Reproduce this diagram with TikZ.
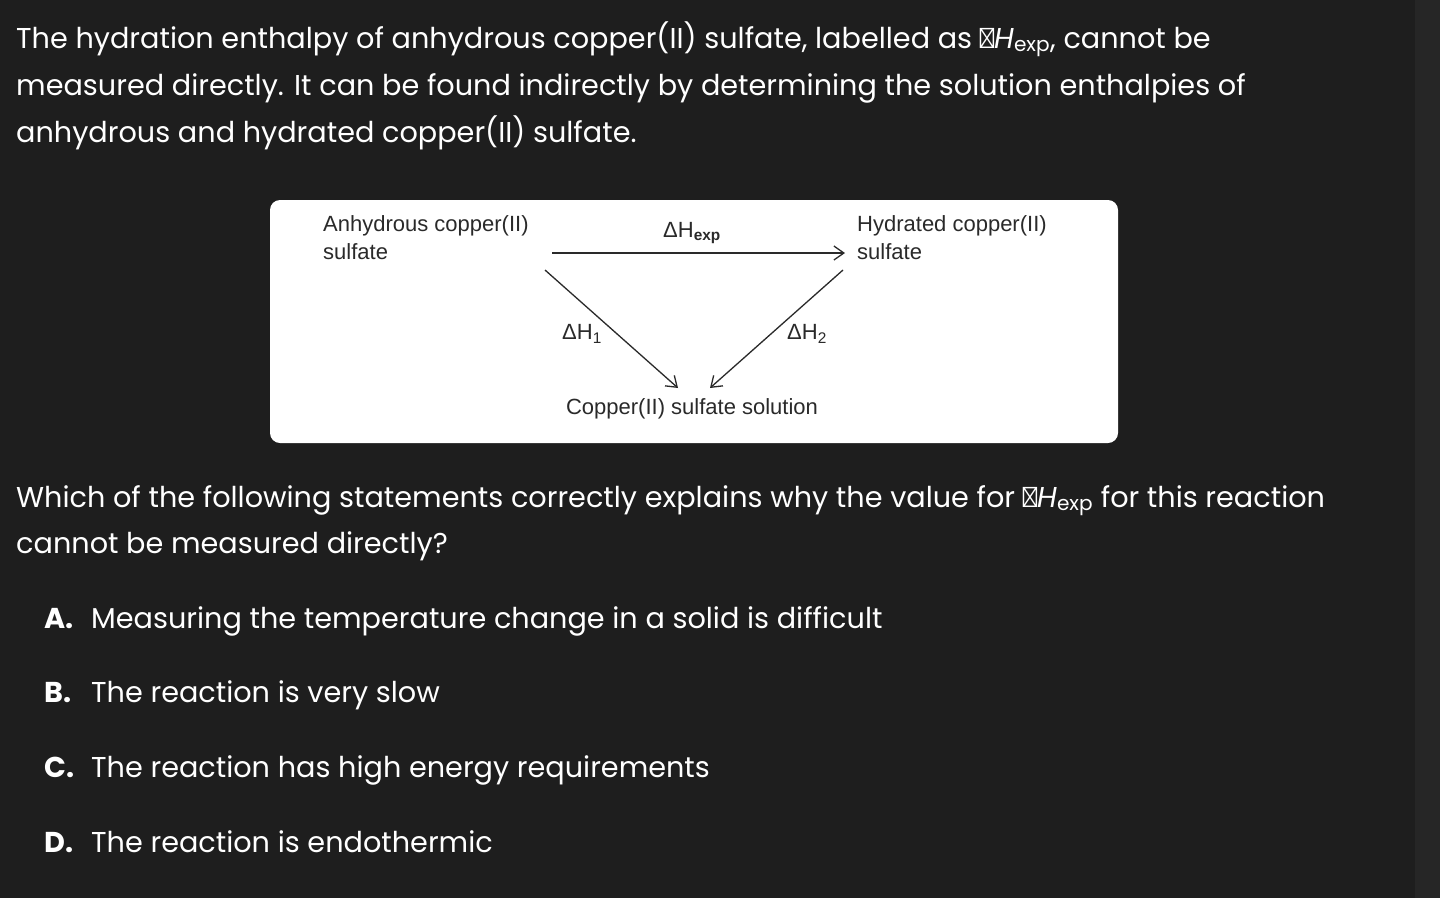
\documentclass[tikz,border=0pt]{standalone}
\usetikzlibrary{arrows.meta}
\usepackage{fontspec}
\setmainfont{Poppins}
\newfontfamily\arial{Liberation Sans}
\definecolor{bg}{HTML}{1E1E1E}
\definecolor{strip}{HTML}{262626}
\definecolor{ink}{HTML}{2A2A2A}
\newcommand{\dhexp}{Δ\textit{H}\textsubscript{exp}}
\begin{document}
\begin{tikzpicture}[x=1pt,y=-1pt,
  txt/.style={anchor=base west,inner sep=0pt,text=white,font=\fontsize{28.7}{32}\selectfont},
  opt/.style={anchor=base west,inner sep=0pt,text=white,font=\fontsize{28.7}{32}\selectfont\bfseries},
  dlab/.style={inner sep=0pt,text=ink,font=\arial\fontsize{22}{28}\selectfont},
  arr/.style={draw=ink,line width=1.3pt,->,>={Straight Barb[length=10pt,width=14pt]}}]
\fill[bg] (0,0) rectangle (1440,898);
\fill[strip] (1415,0) rectangle (1440,898);
\useasboundingbox (0,0) rectangle (1440,898);
\node[txt] (l1) at (16,48) {The hydration enthalpy of anhydrous copper(II) sulfate, labelled as \dhexp, cannot be};
\node[txt] (l2) at (16,95) {measured directly. It can be found indirectly by determining the solution enthalpies of};
\node[txt] (l3) at (16,142) {anhydrous and hydrated copper(II) sulfate.};
\fill[white,rounded corners=10pt] (270,200) rectangle (1118,443);
\node[dlab,align=left,anchor=base west] (anh) at (323,259) {Anhydrous copper(II)\\sulfate};
\node[dlab,align=left,anchor=base west] (hyd) at (857,259) {Hydrated copper(II)\\sulfate};
\node[dlab] (sol) at (692,409) {Copper(II) sulfate solution};
\coordinate (a1) at (552,253); \coordinate (a2) at (845,253);
\coordinate (b1) at (545,270); \coordinate (b2) at (678,388);
\coordinate (c1) at (843,270); \coordinate (c2) at (710,388);
\draw[arr] (a1) -- (a2);
\draw[arr] (b1) -- (b2);
\draw[arr] (c1) -- (c2);
\node[dlab] (hexp) at (692,233) {ΔH\textsubscript{\bfseries exp}};
\node[dlab] (h1) at (582,334) {ΔH\textsubscript{1}};
\node[dlab] (h2) at (807,334) {ΔH\textsubscript{2}};
\node[txt] (q1) at (16,507) {Which of the following statements correctly explains why the value for \dhexp\ for this reaction};
\node[txt] (q2) at (16,553) {cannot be measured directly?};
\node[opt] (oa) at (44,628) {A.}; \node[txt] (ta) at (91,628) {Measuring the temperature change in a solid is difficult};
\node[opt] (ob) at (44,702) {B.}; \node[txt] (tb) at (91,702) {The reaction is very slow};
\node[opt] (oc) at (44,777) {C.}; \node[txt] (tc) at (91,777) {The reaction has high energy requirements};
\node[opt] (od) at (44,852) {D.}; \node[txt] (td) at (91,852) {The reaction is endothermic};
\end{tikzpicture}
\end{document}
